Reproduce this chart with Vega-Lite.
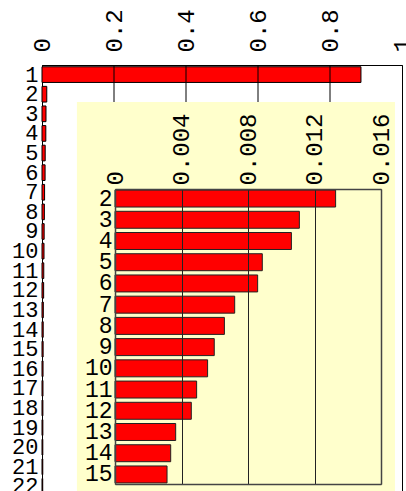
{
  "$schema": "https://vega.github.io/schema/vega-lite/v6.json",
  "width": 360,
  "height": 431,
  "autosize": {"type": "none"},
  "padding": {"left": 42, "top": 65, "right": 4, "bottom": 0},
  "background": "white",
  "config": {
    "view": {"stroke": "black", "strokeWidth": 1},
    "font": "Liberation Mono",
    "axis": {
      "labelFont": "Liberation Mono",
      "labelColor": "black",
      "labelOverlap": false,
      "labelFlush": false,
      "labelBound": false,
      "ticks": false,
      "title": null,
      "grid": false
    }
  },
  "datasets": {
    "shares": [
      {"rank": 1, "share": 0.886},
      {"rank": 2, "share": 0.01327},
      {"rank": 3, "share": 0.01109},
      {"rank": 4, "share": 0.01061},
      {"rank": 5, "share": 0.00886},
      {"rank": 6, "share": 0.00858},
      {"rank": 7, "share": 0.0072},
      {"rank": 8, "share": 0.00658},
      {"rank": 9, "share": 0.00597},
      {"rank": 10, "share": 0.00557},
      {"rank": 11, "share": 0.00491},
      {"rank": 12, "share": 0.00459},
      {"rank": 13, "share": 0.00365},
      {"rank": 14, "share": 0.00335},
      {"rank": 15, "share": 0.00313},
      {"rank": 16, "share": 0.0029},
      {"rank": 17, "share": 0.0027},
      {"rank": 18, "share": 0.0025},
      {"rank": 19, "share": 0.0024},
      {"rank": 20, "share": 0.0023},
      {"rank": 21, "share": 0.0022},
      {"rank": 22, "share": 0.002}
    ]
  },
  "layer": [
    {
      "layer": [
        {
          "data": {"name": "shares"},
          "mark": {"type": "bar", "fill": "#ff0000", "stroke": "black", "strokeWidth": 1},
          "encoding": {
            "x": {
              "field": "share", "type": "quantitative",
              "scale": {"domain": [0, 1], "nice": false, "zero": true},
              "axis": {"orient": "top", "values": [0, 0.2, 0.4, 0.6, 0.8, 1], "format": "~g", "labelAngle": -90, "labelFontSize": 24, "labelPadding": 13, "domainColor": "black", "zindex": 0}
            },
            "y": {
              "field": "rank", "type": "ordinal", "sort": null,
              "scale": {"paddingInner": 0.2, "paddingOuter": 0.09},
              "axis": {"orient": "left", "labelFontSize": 22, "labelPadding": 4, "domainColor": "black", "zindex": 0}
            }
          }
        },
        {"data": {"values": [{}]}, "mark": {"type": "rule", "color": "black", "strokeWidth": 1}, "encoding": {"x": {"datum": 0.2, "type": "quantitative"}}},
        {"data": {"values": [{}]}, "mark": {"type": "rule", "color": "black", "strokeWidth": 1}, "encoding": {"x": {"datum": 0.4, "type": "quantitative"}}},
        {"data": {"values": [{}]}, "mark": {"type": "rule", "color": "black", "strokeWidth": 1}, "encoding": {"x": {"datum": 0.6, "type": "quantitative"}}},
        {"data": {"values": [{}]}, "mark": {"type": "rule", "color": "black", "strokeWidth": 1}, "encoding": {"x": {"datum": 0.8, "type": "quantitative"}}}
      ]
    },
    {
      "layer": [
        {
          "data": {"values": [{}]},
          "mark": {"type": "rect", "fill": "#ffffcc"},
          "encoding": {
            "x": {"datum": -0.00229, "type": "quantitative", "axis": null},
            "x2": {"datum": 0.01684},
            "y": {"datum": 0, "type": "quantitative", "scale": {"domain": [0, 1], "range": [37, 431]}, "axis": null},
            "y2": {"datum": 1}
          }
        },
        {
          "layer": [
            {
              "data": {"name": "shares"},
              "transform": [{"filter": "datum.rank >= 2 && datum.rank <= 15"}],
              "mark": {"type": "bar", "fill": "#ff0000", "stroke": "#222222", "strokeWidth": 1},
              "encoding": {
                "x": {
                  "field": "share", "type": "quantitative",
                  "scale": {"domain": [0, 0.016], "range": [73, 339], "nice": false, "zero": true},
                  "axis": {"orient": "top", "offset": -124, "values": [0, 0.004, 0.008, 0.012, 0.016], "format": "~g", "labelAngle": -90, "labelFontSize": 24, "labelPadding": 4, "grid": true, "gridColor": "#222222", "gridWidth": 1, "domainColor": "#444444", "domainWidth": 1.5, "zindex": 2}
                },
                "y": {
                  "field": "rank", "type": "ordinal", "sort": null,
                  "scale": {"range": [124, 419], "paddingInner": 0.2, "paddingOuter": 0.05},
                  "axis": {"orient": "left", "offset": -73, "labelFontSize": 23, "labelPadding": 3, "domainColor": "#444444", "domainWidth": 1.5, "zindex": 2}
                }
              }
            },
            {
              "data": {"name": "shares"},
              "transform": [{"filter": "datum.rank >= 2 && datum.rank <= 15"}],
              "mark": {"type": "bar", "opacity": 0},
              "encoding": {
                "x": {"field": "share", "type": "quantitative", "axis": {"orient": "bottom", "offset": -12, "labels": false, "domainColor": "#444444", "domainWidth": 1.5, "zindex": 2}},
                "y": {"field": "rank", "type": "ordinal", "sort": null, "axis": {"orient": "right", "offset": -21, "labels": false, "domainColor": "#444444", "domainWidth": 1.5, "zindex": 2}}
              }
            }
          ],
          "resolve": {"axis": {"x": "independent", "y": "independent"}}
        }
      ],
      "resolve": {"scale": {"y": "independent"}, "axis": {"x": "independent", "y": "independent"}}
    }
  ],
  "resolve": {"scale": {"x": "independent", "y": "independent"}, "axis": {"x": "independent", "y": "independent"}}
}
